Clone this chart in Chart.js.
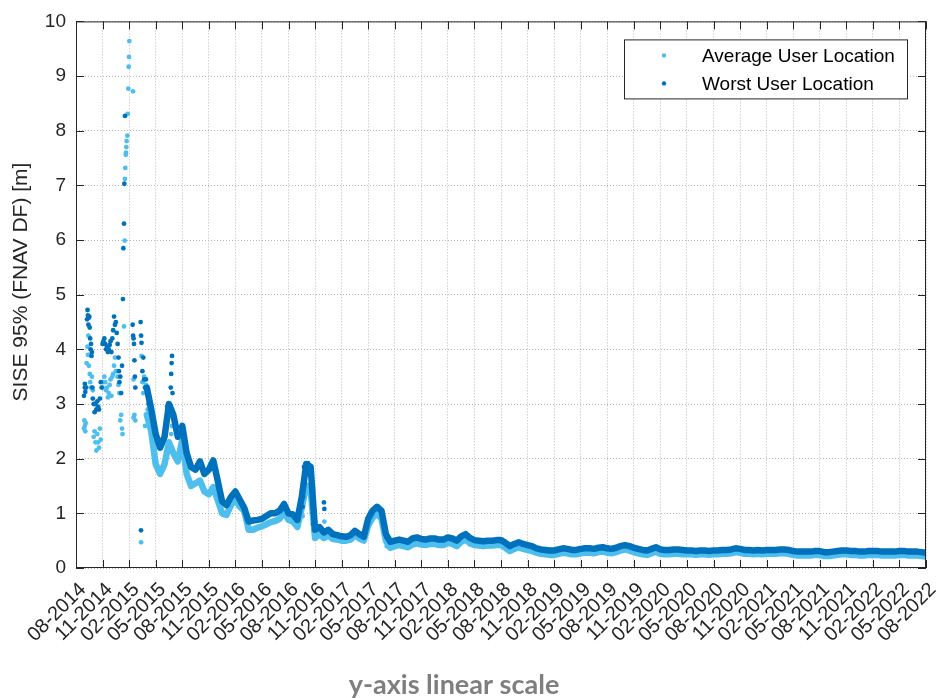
<!DOCTYPE html>
<html>
<head>
<meta charset="utf-8">
<script src="https://cdn.jsdelivr.net/npm/chart.js@4.4.1/dist/chart.umd.min.js"></script>
<style>
  html, body { margin: 0; padding: 0; background: #fff; }
  #wrap { width: 943px; height: 698px; }
</style>
</head>
<body>
<div id="wrap"><canvas id="siseChart" width="943" height="698"></canvas></div>
<script>
// x axis is "months since 08-2014"; ticks every 3 months
var tickLabels = ['08-2014', '11-2014', '02-2015', '05-2015', '08-2015', '11-2015', '02-2016',
    '05-2016', '08-2016', '11-2016', '02-2017', '05-2017', '08-2017', '11-2017', '02-2018',
    '05-2018', '08-2018', '11-2018', '02-2019', '05-2019', '08-2019', '11-2019', '02-2020',
    '05-2020', '08-2020', '11-2020', '02-2021', '05-2021', '08-2021', '11-2021', '02-2022',
    '05-2022', '08-2022'];

var seriesNames = ['Average User Location', 'Worst User Location'];
var yTitle = 'SISE 95% (FNAV DF) [m]';
var caption = 'y-axis linear scale';

// one reading every half month, starting 08-2014 (null = no data)
var avgSise = [
    null, null, 2.6, 3.9, 2.4, 2.3, 3.3, 3.3, 3.15, 3.6, 2.7, null,
    null, 2.75, null, 3.4, 2.8, 2.5, 1.9, 1.72, 1.9, 2.3, 2.1, 1.95,
    2.35, 1.72, 1.5, 1.55, 1.6, 1.4, 1.35, 1.48, 1.25, 1.0, 0.97, 1.15,
    1.27, 1.12, 1.05, 0.7, 0.7, 0.74, 0.76, 0.8, 0.84, 0.86, 0.9, 1.02,
    0.88, 0.85, 0.75, 1.1, 1.5, 1.42, 0.55, 0.62, 0.55, 0.6, 0.53, 0.52,
    0.5, 0.5, 0.52, 0.6, 0.54, 0.5, 0.78, 0.92, 1.0, 0.9, 0.5, 0.37,
    0.4, 0.42, 0.4, 0.38, 0.43, 0.45, 0.43, 0.42, 0.44, 0.44, 0.42, 0.42,
    0.46, 0.44, 0.4, 0.48, 0.52, 0.45, 0.42, 0.41, 0.4, 0.41, 0.41, 0.42,
    0.42, 0.37, 0.31, 0.35, 0.38, 0.35, 0.33, 0.31, 0.28, 0.26, 0.25, 0.24,
    0.24, 0.26, 0.28, 0.27, 0.25, 0.25, 0.27, 0.28, 0.28, 0.27, 0.29, 0.3,
    0.28, 0.27, 0.29, 0.32, 0.34, 0.32, 0.29, 0.27, 0.25, 0.24, 0.27, 0.3,
    0.26, 0.25, 0.25, 0.26, 0.26, 0.25, 0.25, 0.25, 0.24, 0.25, 0.25, 0.24,
    0.25, 0.25, 0.26, 0.26, 0.27, 0.29, 0.28, 0.26, 0.26, 0.25, 0.26, 0.25,
    0.26, 0.26, 0.26, 0.27, 0.27, 0.26, 0.24, 0.23, 0.23, 0.23, 0.23, 0.24,
    0.24, 0.22, 0.22, 0.23, 0.24, 0.25, 0.25, 0.24, 0.24, 0.23, 0.23, 0.24,
    0.24, 0.24, 0.23, 0.23, 0.23, 0.23, 0.24, 0.24, 0.23, 0.23, 0.23, 0.22,
    0.21
];

var worstSise = [
    null, null, 3.3, 4.6, 3.0, 2.95, 4.1, 4.05, 3.95, 4.5, 3.5, null,
    null, 4.2, null, 3.6, 3.3, 2.9, 2.45, 2.2, 2.4, 3.0, 2.8, 2.4,
    2.6, 2.1, 1.85, 1.8, 1.95, 1.72, 1.8, 1.97, 1.6, 1.22, 1.15, 1.3,
    1.4, 1.25, 1.1, 0.85, 0.87, 0.88, 0.9, 0.95, 1.0, 1.0, 1.05, 1.17,
    1.0, 0.98, 0.88, 1.3, 1.9, 1.85, 0.7, 0.75, 0.65, 0.7, 0.62, 0.6,
    0.58, 0.57, 0.6, 0.68, 0.62, 0.57, 0.9, 1.05, 1.12, 1.05, 0.62, 0.48,
    0.5, 0.52, 0.5, 0.48, 0.54, 0.56, 0.53, 0.52, 0.54, 0.54, 0.52, 0.52,
    0.56, 0.54, 0.5, 0.58, 0.62, 0.55, 0.51, 0.5, 0.49, 0.5, 0.5, 0.51,
    0.51, 0.46, 0.4, 0.44, 0.47, 0.44, 0.42, 0.4, 0.36, 0.34, 0.33, 0.32,
    0.32, 0.34, 0.36, 0.35, 0.33, 0.33, 0.35, 0.36, 0.36, 0.35, 0.37, 0.38,
    0.36, 0.35, 0.37, 0.4, 0.42, 0.4, 0.37, 0.35, 0.33, 0.32, 0.35, 0.38,
    0.34, 0.33, 0.33, 0.34, 0.34, 0.33, 0.32, 0.32, 0.31, 0.32, 0.32, 0.31,
    0.32, 0.32, 0.33, 0.33, 0.34, 0.36, 0.35, 0.33, 0.33, 0.32, 0.33, 0.32,
    0.33, 0.33, 0.33, 0.34, 0.34, 0.33, 0.31, 0.3, 0.3, 0.3, 0.3, 0.31,
    0.31, 0.29, 0.29, 0.3, 0.31, 0.32, 0.32, 0.31, 0.31, 0.3, 0.3, 0.31,
    0.31, 0.31, 0.3, 0.3, 0.3, 0.3, 0.31, 0.31, 0.3, 0.3, 0.3, 0.29,
    0.28
];

// extra scattered readings [month, value]: early noisy period, spikes and outliers
var avgExtraPoints = [
    [0.9, 2.55], [0.95, 2.7], [1.05, 2.5], [1.1, 2.65], [1.2, 3.75], [1.3, 4.05], [1.35, 3.9],
    [1.4, 4.25], [1.45, 3.7], [1.55, 3.55], [1.6, 3.4], [1.7, 3.3], [1.8, 3.5], [1.9, 3.25],
    [2.1, 2.5], [2.2, 2.3], [2.3, 2.15], [2.4, 2.45], [2.6, 2.2], [2.7, 2.55], [2.8, 2.35],
    [3.1, 3.4], [3.2, 3.5], [3.3, 3.4], [3.4, 3.25], [3.6, 3.12], [3.7, 3.2], [3.8, 3.35],
    [3.9, 3.45], [4.1, 3.5], [4.2, 3.55], [4.3, 3.7], [4.4, 3.85], [4.6, 3.6], [4.7, 3.5],
    [4.8, 3.35], [4.9, 3.2], [5.1, 2.8], [5.2, 2.55], [5.25, 2.45],
    [5.42, 4.42], [5.5, 5.99], [5.53, 7.12], [5.57, 7.32], [5.62, 7.56], [5.65, 7.6],
    [5.68, 7.7], [5.72, 7.81], [5.8, 7.91], [5.84, 8.31], [5.91, 8.77], [5.95, 9.17],
    [5.99, 9.35], [6.02, 9.64], [6.44, 8.72],
    [6.5, 3.45], [6.6, 2.8], [6.7, 2.7], [7.35, 0.47], [7.4, 3.88], [7.6, 3.2], [7.7, 3.5],
    [7.8, 2.6], [7.9, 3.35], [8.1, 2.9], [8.3, 2.6], [8.6, 2.3], [8.8, 2.15],
    [10.75, 2.45], [10.8, 2.9], [10.85, 2.6],
    [25.6, 0.95], [25.7, 1.25], [25.75, 1.45], [26.2, 1.52], [26.6, 1.3], [26.7, 1.0], [26.8, 0.7],
    [28.05, 0.85], [34.9, 0.62], [35.1, 0.4]
];

var worstExtraPoints = [
    [0.9, 3.15], [1.0, 3.37], [1.05, 3.22], [1.15, 3.3], [1.25, 4.55], [1.3, 4.72], [1.35, 4.62],
    [1.4, 4.45], [1.45, 4.58], [1.55, 4.4], [1.6, 4.2], [1.65, 4.0], [1.7, 4.1], [1.75, 3.88],
    [1.8, 3.95], [1.85, 3.3], [1.9, 3.1], [2.1, 2.85], [2.2, 3.0], [2.3, 2.9], [2.4, 3.05],
    [2.6, 2.9], [2.7, 3.1], [2.8, 3.4], [2.9, 3.3], [3.1, 4.15], [3.2, 4.2], [3.3, 4.1],
    [3.4, 4.0], [3.6, 3.95], [3.7, 4.0], [3.8, 4.08], [3.9, 4.15], [4.1, 4.2], [4.2, 4.35],
    [4.3, 4.6], [4.4, 4.45], [4.6, 4.3], [4.7, 4.1], [4.8, 3.85], [4.85, 3.6], [4.9, 3.4],
    [5.1, 3.2], [5.2, 3.7],
    [5.3, 4.92], [5.35, 5.85], [5.42, 6.3], [5.46, 7.03], [5.53, 8.27],
    [6.4, 4.45], [6.45, 4.25], [6.55, 4.1], [6.6, 3.8], [6.65, 3.5], [6.7, 3.3],
    [7.3, 4.5], [7.34, 0.69], [7.35, 4.25], [7.4, 4.12], [7.6, 3.85], [7.7, 3.45], [7.8, 3.3],
    [7.9, 3.45], [8.1, 3.15], [8.2, 3.0],
    [10.3, 2.95], [10.4, 2.75], [10.7, 3.3], [10.75, 3.55], [10.8, 3.75], [10.85, 3.88], [10.9, 3.2],
    [25.6, 1.12], [25.65, 1.3], [25.7, 1.6], [25.75, 1.85], [26.2, 1.92], [26.6, 1.6],
    [26.65, 1.4], [26.7, 1.2], [26.75, 1.0], [26.8, 0.8],
    [28.0, 1.2], [28.05, 1.08], [34.9, 0.75], [35.1, 0.55]
];

// from this half-month index on the readings are dense enough to show as a continuous band
var bandStartIndex = 16;

var avgColor = '#4DBEEE';
var worstColor = '#0072BD';
var axisColor = '#262626';
var fontFamily = '"Liberation Sans", Arial, sans-serif';

function halfMonthPoints(values, fromIdx, toIdx) {
    var pts = [];
    for (var i = fromIdx; i < toIdx; i++) {
        pts.push({ x: i / 2, y: values[i] });
    }
    return pts;
}

function dotPoints(values, extraPoints) {
    var pts = halfMonthPoints(values, 0, bandStartIndex).filter(function (p) { return p.y !== null; });
    extraPoints.forEach(function (p) {
        pts.push({ x: p[0], y: p[1] });
    });
    return pts;
}

// draws the box, inward tick marks, legend, y title and caption the way the original figure has them
var figureExtras = {
    id: 'figureExtras',
    afterDatasetsDraw: function (chart) {
        var ctx = chart.ctx;
        var area = chart.chartArea;
        var xs = chart.scales.x;
        var ys = chart.scales.y;
        ctx.save();
        ctx.strokeStyle = axisColor;
        ctx.lineWidth = 1;
        ctx.strokeRect(area.left + 0.5, area.top + 0.5, area.right - area.left - 1, area.bottom - area.top - 1);
        ctx.beginPath();
        xs.ticks.forEach(function (t) {
            var px = Math.round(xs.getPixelForValue(t.value)) + 0.5;
            ctx.moveTo(px, area.bottom);
            ctx.lineTo(px, area.bottom - 8);
            ctx.moveTo(px, area.top);
            ctx.lineTo(px, area.top + 8);
        });
        ys.ticks.forEach(function (t) {
            var py = Math.round(ys.getPixelForValue(t.value)) + 0.5;
            ctx.moveTo(area.left, py);
            ctx.lineTo(area.left + 8, py);
            ctx.moveTo(area.right, py);
            ctx.lineTo(area.right - 8, py);
        });
        ctx.stroke();
        ctx.restore();
    },
    afterDraw: function (chart) {
        var ctx = chart.ctx;
        var area = chart.chartArea;
        ctx.save();
        // legend
        var boxW = 283, boxH = 59;
        var boxX = area.right - 19 - boxW;
        var boxY = area.top + 18;
        ctx.fillStyle = '#ffffff';
        ctx.fillRect(boxX, boxY, boxW, boxH);
        ctx.strokeStyle = axisColor;
        ctx.lineWidth = 1;
        ctx.strokeRect(boxX + 0.5, boxY + 0.5, boxW, boxH);
        ctx.font = '19px ' + fontFamily;
        ctx.textBaseline = 'middle';
        ctx.textAlign = 'left';
        var entries = chart.data.datasets.filter(function (ds) { return ds.legendEntry; });
        entries.forEach(function (ds, i) {
            var rowY = boxY + 16 + i * 28;
            ctx.fillStyle = ds.backgroundColor;
            ctx.beginPath();
            ctx.arc(boxX + 40, rowY, 2.2, 0, Math.PI * 2);
            ctx.fill();
            ctx.fillStyle = '#000000';
            ctx.fillText(ds.label, boxX + 78, rowY + 1);
        });
        // y axis title
        ctx.save();
        ctx.translate(21, 282);
        ctx.rotate(-Math.PI / 2);
        ctx.font = '21px ' + fontFamily;
        ctx.fillStyle = axisColor;
        ctx.textAlign = 'center';
        ctx.fillText(yTitle, 0, 0);
        ctx.restore();
        // caption under the figure
        ctx.font = 'bold 27px Lato, "Open Sans", sans-serif';
        ctx.fillStyle = '#7f7f7f';
        ctx.textAlign = 'center';
        ctx.textBaseline = 'middle';
        ctx.fillText(caption, 454, 685);
        ctx.restore();
    }
};

var ctx = document.getElementById('siseChart').getContext('2d');
var siseChart = new Chart(ctx, {
    type: 'scatter',
    data: {
        datasets: [{
            label: seriesNames[0],
            legendEntry: true,
            data: dotPoints(avgSise, avgExtraPoints),
            backgroundColor: avgColor,
            borderWidth: 0,
            pointRadius: 2.4,
            order: 3
        }, {
            label: seriesNames[0] + ' band',
            data: halfMonthPoints(avgSise, bandStartIndex, avgSise.length),
            showLine: true,
            spanGaps: false,
            borderColor: avgColor,
            backgroundColor: avgColor,
            borderWidth: 6.5,
            borderJoinStyle: 'round',
            borderCapStyle: 'round',
            pointRadius: 0,
            order: 2
        }, {
            label: seriesNames[1],
            legendEntry: true,
            data: dotPoints(worstSise, worstExtraPoints),
            backgroundColor: worstColor,
            borderWidth: 0,
            pointRadius: 2.4,
            order: 1
        }, {
            label: seriesNames[1] + ' band',
            data: halfMonthPoints(worstSise, bandStartIndex, worstSise.length),
            showLine: true,
            spanGaps: false,
            borderColor: worstColor,
            backgroundColor: worstColor,
            borderWidth: 6.5,
            borderJoinStyle: 'round',
            borderCapStyle: 'round',
            pointRadius: 0,
            order: 0
        }]
    },
    options: {
        responsive: false,
        animation: false,
        layout: { padding: { top: 19, right: 17, left: 0, bottom: 0 } },
        plugins: {
            legend: { display: false },
            tooltip: { enabled: false }
        },
        scales: {
            x: {
                type: 'linear',
                min: 0,
                max: 96,
                afterFit: function (scale) {
                    scale.height = 130;
                    scale.paddingLeft = 0;
                    scale.paddingRight = 0;
                },
                ticks: {
                    stepSize: 3,
                    autoSkip: false,
                    minRotation: 45,
                    maxRotation: 45,
                    padding: 10,
                    labelOffset: 7,
                    color: axisColor,
                    font: { family: fontFamily, size: 20 },
                    callback: function (value) {
                        return tickLabels[Math.round(value / 3)];
                    }
                },
                grid: { color: '#b8b8b8', drawTicks: false },
                border: { display: false, dash: [1, 2] }
            },
            y: {
                min: 0,
                max: 10,
                afterFit: function (scale) { scale.width = 76; },
                ticks: {
                    stepSize: 1,
                    padding: 10,
                    color: axisColor,
                    font: { family: fontFamily, size: 19 }
                },
                grid: { color: '#b8b8b8', drawTicks: false },
                border: { display: false, dash: [1, 2] }
            }
        }
    },
    plugins: [figureExtras]
});
</script>
</body>
</html>
